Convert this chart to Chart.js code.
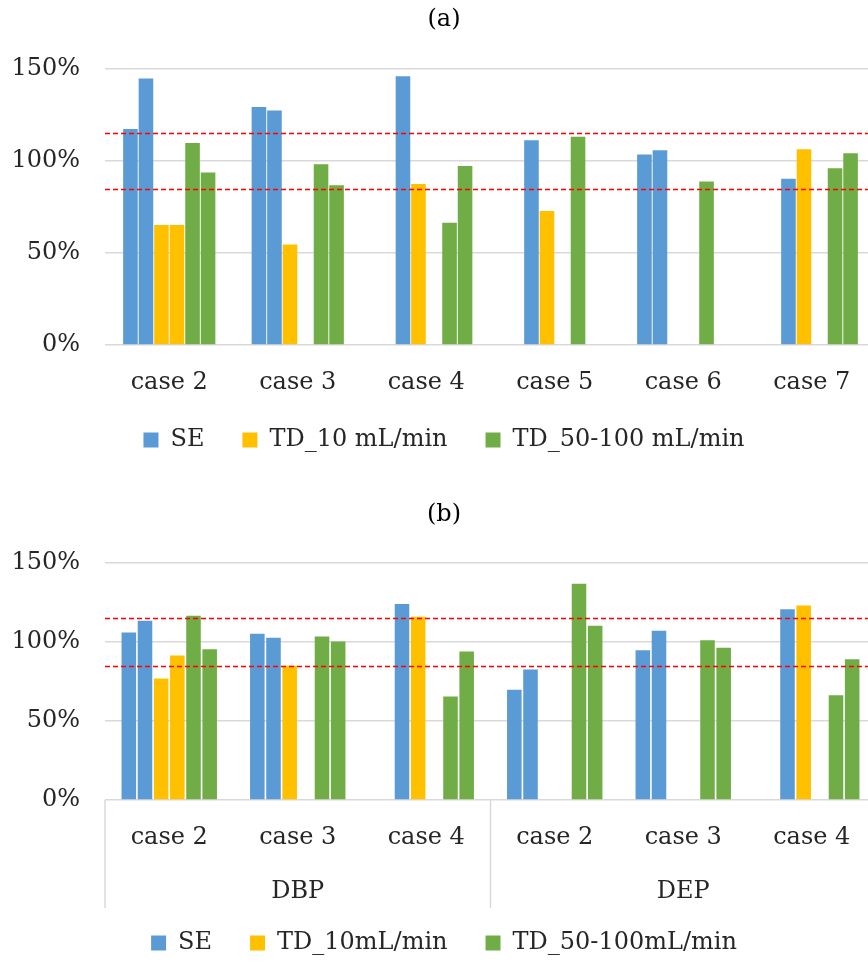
<!DOCTYPE html>
<html>
<head>
<meta charset="utf-8">
<script src="https://cdn.jsdelivr.net/npm/chart.js@4"></script>
<style>
  html, body { margin: 0; padding: 0; background: #fff; overflow: hidden; width: 868px; height: 965px; }
  .wrap { position: absolute; left: 0; width: 880px; }
</style>
</head>
<body>
<div class="wrap" style="top:0;height:460px"><canvas id="chartA"></canvas></div>
<div class="wrap" style="top:490px;height:473px"><canvas id="chartB"></canvas></div>
<script>
// panel (a)
var casesA = ['case 2', 'case 3', 'case 4', 'case 5', 'case 6', 'case 7'];
var seA1 = [117.4, 129.4, null, null, 103.6, null];
var seA2 = [144.8, 127.4, 146.1, 111.3, 105.8, 90.4];
var td10A1 = [65.2, 54.6, 87.5, 72.8, null, 106.4];
var td10A2 = [65.2, null, null, null, null, null];
var td50A1 = [109.8, 98.2, 66.4, 113.2, 88.9, 96.0];
var td50A2 = [93.8, 86.8, 97.3, null, null, 104.2];
var legendA = ['SE', 'TD_10 mL/min', 'TD_50-100 mL/min'];

// panel (b)
var casesB = ['case 2', 'case 3', 'case 4', 'case 2', 'case 3', 'case 4'];
var groupsB = ['DBP', 'DEP'];
var seB1 = [106.0, 105.2, null, 69.7, 94.8, null];
var seB2 = [113.4, 102.7, 124.0, 82.6, 107.1, 120.8];
var td10B1 = [76.9, 84.9, 116.0, null, null, 123.1];
var td10B2 = [91.4, null, null, null, null, null];
var td50B1 = [116.6, 103.5, 65.5, 136.9, 101.1, 66.3];
var td50B2 = [95.4, 100.3, 94.0, 110.3, 96.3, 89.1];
var legendB = ['SE', 'TD_10mL/min', 'TD_50-100mL/min'];

var yTicks = [0, 50, 100, 150];
var refLines = [85, 115];

var colors = ['#5B9BD5', '#FFC000', '#70AD47'];
var FONT = 'DejaVu Serif';
var TXT = '#262626';

var refLinePlugin = {
  id: 'refLines',
  afterDatasetsDraw: function (chart) {
    var ctx = chart.ctx, area = chart.chartArea, y = chart.scales.y;
    ctx.save();
    ctx.strokeStyle = '#FF0000';
    ctx.lineWidth = 1.5;
    ctx.setLineDash([5, 3]);
    refLines.forEach(function (v) {
      var py = Math.round(y.getPixelForValue(v)) + 0.5;
      ctx.beginPath();
      ctx.moveTo(area.left, py);
      ctx.lineTo(area.right, py);
      ctx.stroke();
    });
    ctx.restore();
  }
};

// the x labels sit low in their boxes; give them room so they are not clipped
var labelRoomPlugin = {
  id: 'labelRoom',
  afterLayout: function (chart) {
    ['x', 'x2'].forEach(function (id) {
      if (chart.scales[id]) chart.scales[id].bottom += 20;
    });
  }
};

var groupLinePlugin = {
  id: 'groupLines',
  afterDraw: function (chart) {
    var ctx = chart.ctx, area = chart.chartArea, x = chart.scales.x;
    var per = x.ticks.length / groupsB.length;
    var xs = [area.left, area.right];
    for (var g = 1; g < groupsB.length; g++) {
      xs.push((x.getPixelForValue(g * per - 1) + x.getPixelForValue(g * per)) / 2);
    }
    ctx.save();
    ctx.strokeStyle = '#d9d9d9';
    ctx.lineWidth = 1.5;
    xs.forEach(function (px) {
      ctx.beginPath();
      ctx.moveTo(px, area.bottom);
      ctx.lineTo(px, area.bottom + 108);
      ctx.stroke();
    });
    ctx.restore();
  }
};

function makeDatasets(series, names, barPct) {
  return series.map(function (s, i) {
    var k = Math.floor(i / 2);
    return {
      label: names[k],
      data: s,
      backgroundColor: colors[k],
      borderWidth: 0,
      barPercentage: barPct
    };
  });
}

function fixHeight(h) {
  return function (axis) { axis.height = h; };
}

function makeChart(id, title, titlePad, labels, series, names, opts) {
  var scales = {
    x: {
      weight: 0,
      afterFit: fixHeight(opts.xHeight),
      grid: { display: false, drawTicks: false },
      border: { display: false },
      ticks: { color: TXT, padding: 23.6, font: { family: FONT, size: 24 } }
    },
    y: {
      min: 0,
      max: 150,
      afterBuildTicks: function (axis) {
        axis.ticks = yTicks.map(function (v) { return { value: v }; });
      },
      afterFit: function (axis) { axis.width = 93; },
      grid: { color: '#d9d9d9', lineWidth: 1.5, drawTicks: false },
      border: { display: false },
      ticks: {
        color: TXT,
        padding: 25,
        font: { family: FONT, size: 24 },
        callback: function (v) { return v + '%'; }
      }
    }
  };
  if (opts.groups) {
    scales.x2 = {
      type: 'category',
      position: 'bottom',
      weight: 1,
      labels: opts.groups,
      offset: true,
      afterFit: fixHeight(43),
      grid: { display: false, drawTicks: false },
      border: { display: false },
      ticks: { color: TXT, padding: 27.6, font: { family: FONT, size: 24 } }
    };
  }
  var plugins = [refLinePlugin, labelRoomPlugin];
  if (opts.groups) plugins.push(groupLinePlugin);
  return new Chart(document.getElementById(id), {
    type: 'bar',
    data: { labels: labels, datasets: makeDatasets(series, names, opts.barPct) },
    options: {
      responsive: true,
      maintainAspectRatio: false,
      animation: false,
      datasets: { bar: { categoryPercentage: opts.catPct } },
      layout: { padding: { left: 12, right: 4, top: 0, bottom: 0 } },
      scales: scales,
      plugins: {
        title: {
          display: true,
          text: title,
          color: '#000',
          font: { family: FONT, size: 24, weight: 'normal' },
          padding: titlePad
        },
        legend: {
          position: 'bottom',
          maxHeight: 70,
          labels: {
            color: TXT,
            boxWidth: 15,
            boxHeight: 15,
            padding: 38,
            font: { family: FONT, size: 24 },
            filter: function (item) { return item.datasetIndex % 2 === 0; }
          }
        },
        tooltip: { enabled: false }
      }
    },
    plugins: plugins
  });
}

makeChart('chartA', '(a)', { top: 5.6, bottom: 34.6 }, casesA,
  [seA1, seA2, td10A1, td10A2, td50A1, td50A2], legendA,
  { catPct: 0.725, barPct: 0.94, xHeight: 45 });

makeChart('chartB', '(b)', { top: 10.6, bottom: 33.6 }, casesB,
  [seB1, seB2, td10B1, td10B2, td50B1, td50B2], legendB,
  { catPct: 0.755, barPct: 0.9, xHeight: 50, groups: groupsB });
</script>
</body>
</html>
